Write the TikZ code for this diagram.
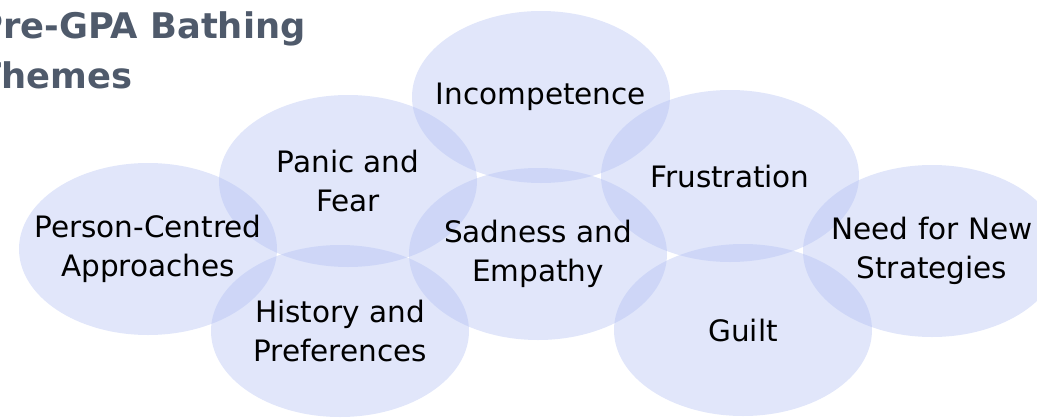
\documentclass[tikz,border=0pt]{standalone}
\usepackage{fontspec}
\setmainfont{DejaVu Sans}
\usetikzlibrary{shapes.geometric}
\definecolor{bubblefill}{RGB}{175,189,242}
\definecolor{titleslate}{RGB}{79,90,107}
\begin{document}
\begin{tikzpicture}[x=1pt,y=-1pt,
  bubble/.style={ellipse, minimum width=258pt, minimum height=172pt,
    inner sep=0pt, fill=bubblefill, fill opacity=0.38, draw=none},
  theme/.style={align=center, inner sep=0pt, text=black,
    font=\fontsize{29.5}{39}\selectfont},
  heading/.style={anchor=base west, inner sep=0pt, text=titleslate,
    font=\fontsize{35.3}{50}\selectfont\bfseries}]
\useasboundingbox (0,0) rectangle (1037,418);
\clip (0,0) rectangle (1037,418);

% overlapping theme bubbles
\node[bubble] (pc)  at (148,249) {};
\node[bubble] (pf)  at (348,181) {};
\node[bubble] (inc) at (541,97)  {};
\node[bubble] (fr)  at (730,176) {};
\node[bubble] (ns)  at (932,251) {};
\node[bubble] (gu)  at (743,330) {};
\node[bubble] (se)  at (538,254) {};
\node[bubble] (hp)  at (340,331) {};

% theme labels
\node[theme] (pcT)  at (pc)  {Person-Centred\\Approaches};
\node[theme] (pfT)  at (pf)  {Panic and\\Fear};
\node[theme] (incT) at (inc) {Incompetence};
\node[theme] (frT)  at (fr)  {Frustration};
\node[theme] (nsT)  at (ns)  {Need for New\\Strategies};
\node[theme] (guT)  at (gu)  {Guilt};
\node[theme] (seT)  at (se)  {Sadness and\\Empathy};
\node[theme] (hpT)  at (hp)  {History and\\Preferences};

% heading, running off the left edge
\node[heading] (title1) at (-23,38) {Pre-GPA Bathing};
\node[heading] (title2) at (-23,88) {Themes};
\end{tikzpicture}
\end{document}
